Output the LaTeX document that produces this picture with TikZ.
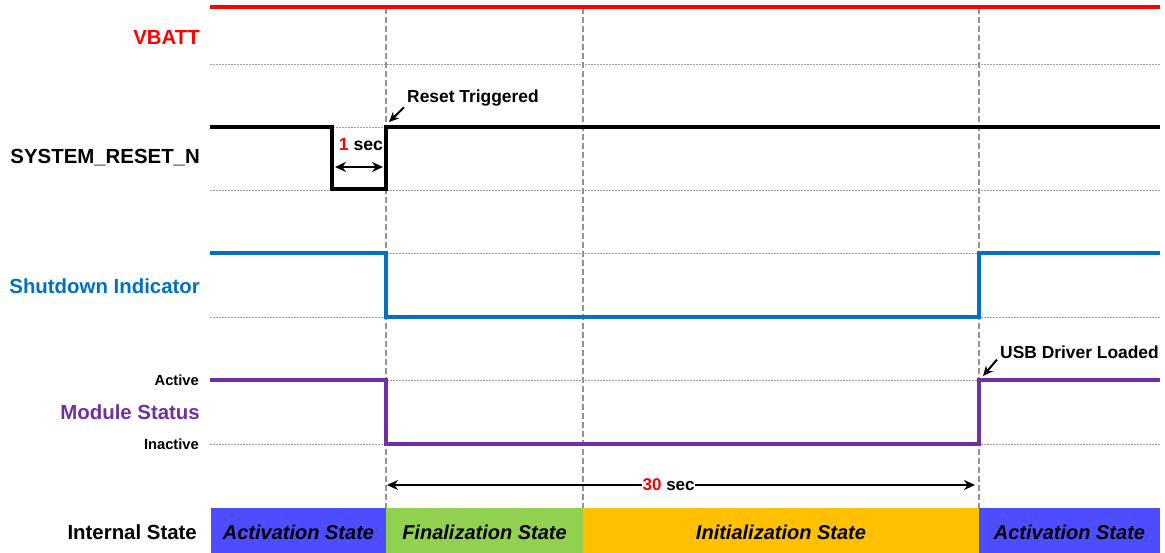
\documentclass[tikz,border=0pt]{standalone}
\usepackage{fontspec}
\setmainfont{Liberation Sans}
\usetikzlibrary{arrows.meta}
\definecolor{vred}{HTML}{FF0000}
\definecolor{sblue}{HTML}{0070C0}
\definecolor{mpurple}{HTML}{7030A0}
\definecolor{actblue}{HTML}{4D4DFF}
\definecolor{fingreen}{HTML}{92D050}
\definecolor{initorange}{HTML}{FFC000}
\begin{document}
\begin{tikzpicture}[x=1pt,y=-1pt,
  lbl/.style={anchor=east, font=\fontsize{20.4}{24}\selectfont\bfseries, inner sep=0pt},
  smalllbl/.style={anchor=east, font=\fontsize{14.7}{17}\selectfont\bfseries, inner sep=0pt},
  note/.style={anchor=west, font=\fontsize{17.4}{20}\selectfont\bfseries, inner sep=0pt},
  gridline/.style={gray!75, line width=0.8pt, dash pattern=on 2pt off 1pt},
  vdash/.style={gray!85, line width=1.2pt, dash pattern=on 6pt off 3pt},
  sig/.style={line width=3.8pt, line join=miter},
  arr/.style={line width=2pt, -{Stealth[length=10pt,width=9pt]}},
  darr/.style={line width=2.8pt, {Stealth[length=11pt,width=10pt]}-{Stealth[length=11pt,width=10pt]}},
  statebox/.style={anchor=north west, inner sep=0pt, outer sep=0pt, minimum height=45pt},
  statetext/.style={inner sep=0pt, font=\fontsize{20}{22}\selectfont\bfseries\itshape}
]
\useasboundingbox (0,0) rectangle (1165,553);

% horizontal reference lines
\foreach \yy in {64,127,190,253,317,380,444}
  \draw[gridline] (210,\yy) -- (1160,\yy);

% vertical time markers
\foreach \xx in {386,583,979}
  \draw[vdash] (\xx,8) -- (\xx,508);

% signal labels
\node[lbl, text=vred] (vbatt) at (200,37) {VBATT};
\node[lbl] (reset) at (200,158) {SYSTEM\_RESET\_N};
\node[lbl, text=sblue] (shut) at (200,286) {Shutdown Indicator};
\node[smalllbl] (active) at (199,380) {Active};
\node[lbl, text=mpurple] (modst) at (200,412) {Module Status};
\node[smalllbl] (inactive) at (199,444) {Inactive};
\node[lbl] (istate) at (197,532) {Internal State};

% waveforms
\draw[vred, line width=4.5pt] (210,7) -- (1160,7);
\draw[sig, black] (210,127) -- (332,127) -- (332,189) -- (386,189) -- (386,127) -- (1160,127);
\draw[sig, sblue] (210,253) -- (386,253) -- (386,317) -- (979,317) -- (979,253) -- (1160,253);
\draw[sig, mpurple] (210,380) -- (386,380) -- (386,444) -- (979,444) -- (979,380) -- (1160,380);

% annotations
\node[note] (rt) at (407,98) {Reset Triggered};
\coordinate (rtpt) at (389,122);
\draw[arr] ([xshift=-3pt,yshift=-1pt]rt.south west) -- (rtpt);

\node[note] (usb) at (1000,352) {USB Driver Loaded};
\coordinate (usbpt) at (983,376);
\draw[arr] ([xshift=-3pt,yshift=-1pt]usb.south west) -- (usbpt);

\node[font=\fontsize{17.6}{20}\selectfont\bfseries, inner sep=0pt] (onesec) at (361,145) {\textcolor{vred}{1} sec};
\coordinate (os1) at (335,167);
\coordinate (os2) at (383,167);
\draw[darr] (os1) -- (os2);

\coordinate (ts1) at (387,485);
\coordinate (ts2) at (975,485);
\draw[darr] (ts1) -- (ts2) node[pos=0.479, fill=white, inner sep=0.5pt, font=\fontsize{17}{20}\selectfont\bfseries] (thirty) {\textcolor{vred}{30} sec};

% internal states
\node[statebox, fill=actblue, minimum width=175pt] (st1) at (211,508) {};
\node[statebox, fill=fingreen, minimum width=197pt] (st2) at (386,508) {};
\node[statebox, fill=initorange, minimum width=396pt] (st3) at (583,508) {};
\node[statebox, fill=actblue, minimum width=181pt] (st4) at (979,508) {};
\node[statetext] (st1t) at ([yshift=-2pt]st1.center) {Activation State};
\node[statetext] (st2t) at ([yshift=-2pt]st2.center) {Finalization State};
\node[statetext] (st3t) at ([yshift=-2pt]st3.center) {Initialization State};
\node[statetext] (st4t) at ([yshift=-2pt]st4.center) {Activation State};
\end{tikzpicture}
\end{document}
